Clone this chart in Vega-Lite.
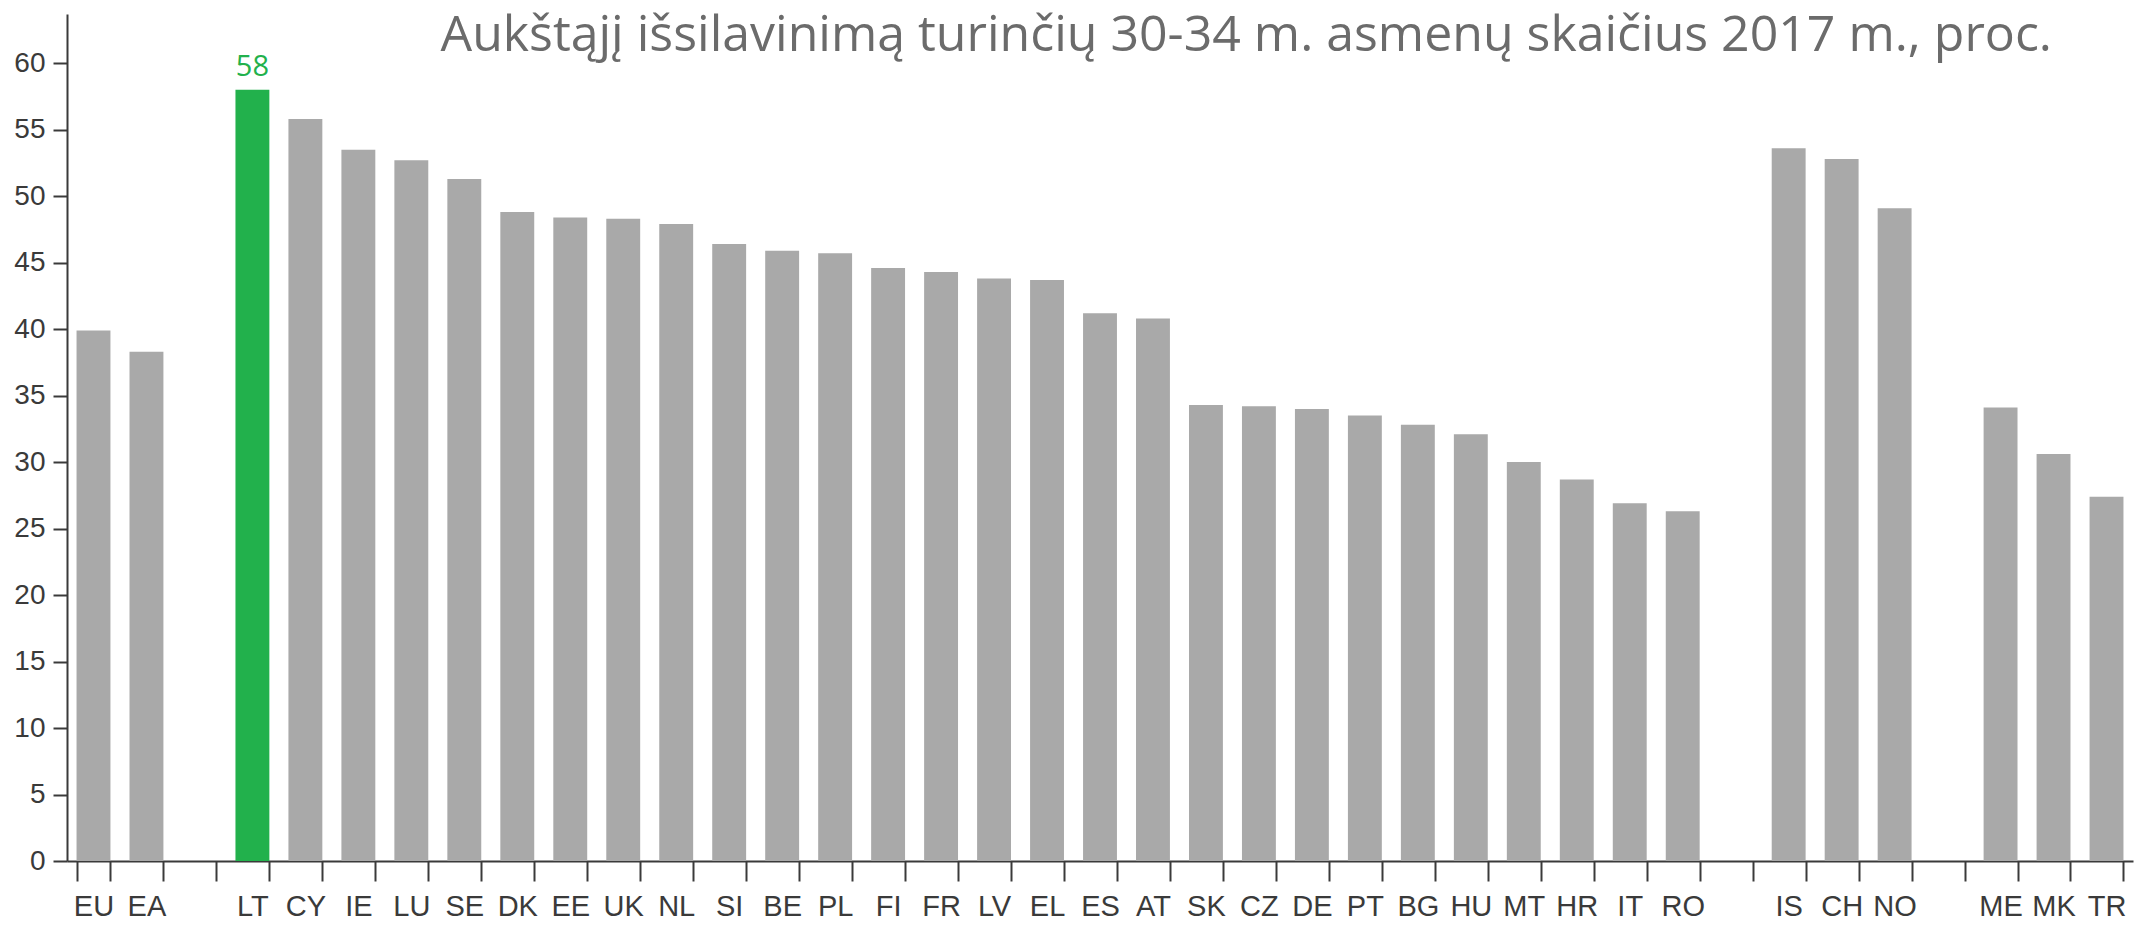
{
  "$schema": "https://vega.github.io/schema/vega-lite/v6.json",
  "width": 2066,
  "height": 847,
  "autosize": {"type": "none"},
  "padding": {"left": 67, "top": 14, "right": 16, "bottom": 68},
  "background": "white",
  "title": {
    "text": "Aukštąjį išsilavinimą turinčių 30-34 m. asmenų skaičius 2017 m., proc.",
    "anchor": "end",
    "frame": "group",
    "orient": "top",
    "offset": 0,
    "baseline": "alphabetic",
    "dy": 87,
    "dx": -81,
    "font": "Open Sans",
    "fontSize": 50,
    "fontWeight": "normal",
    "color": "#6b6b6b"
  },
  "config": {
    "view": {"stroke": null},
    "axis": {"grid": false, "domainColor": "#3a3a3a", "domainWidth": 2, "tickColor": "#3a3a3a", "tickWidth": 2, "labelColor": "#3a3a3a", "labelFont": "Liberation Sans", "title": null}
  },
  "data": {
    "values": [
      {"country": "EU", "value": 39.9},
      {"country": "EA", "value": 38.3},
      {"country": "LT", "value": 58.0},
      {"country": "CY", "value": 55.8},
      {"country": "IE", "value": 53.5},
      {"country": "LU", "value": 52.7},
      {"country": "SE", "value": 51.3},
      {"country": "DK", "value": 48.8},
      {"country": "EE", "value": 48.4},
      {"country": "UK", "value": 48.3},
      {"country": "NL", "value": 47.9},
      {"country": "SI", "value": 46.4},
      {"country": "BE", "value": 45.9},
      {"country": "PL", "value": 45.7},
      {"country": "FI", "value": 44.6},
      {"country": "FR", "value": 44.3},
      {"country": "LV", "value": 43.8},
      {"country": "EL", "value": 43.7},
      {"country": "ES", "value": 41.2},
      {"country": "AT", "value": 40.8},
      {"country": "SK", "value": 34.3},
      {"country": "CZ", "value": 34.2},
      {"country": "DE", "value": 34.0},
      {"country": "PT", "value": 33.5},
      {"country": "BG", "value": 32.8},
      {"country": "HU", "value": 32.1},
      {"country": "MT", "value": 30.0},
      {"country": "HR", "value": 28.7},
      {"country": "IT", "value": 26.9},
      {"country": "RO", "value": 26.3},
      {"country": "IS", "value": 53.6},
      {"country": "CH", "value": 52.8},
      {"country": "NO", "value": 49.1},
      {"country": "ME", "value": 34.1},
      {"country": "MK", "value": 30.6},
      {"country": "TR", "value": 27.4}
    ]
  },
  "encoding": {
    "x": {
      "field": "country",
      "type": "nominal",
      "sort": null,
      "scale": {
        "domain": ["EU", "EA", "_1", "LT", "CY", "IE", "LU", "SE", "DK", "EE", "UK", "NL", "SI", "BE", "PL", "FI", "FR", "LV", "EL", "ES", "AT", "SK", "CZ", "DE", "PT", "BG", "HU", "MT", "HR", "IT", "RO", "_2", "IS", "CH", "NO", "_3", "ME", "MK", "TR"],
        "paddingInner": 0.36,
        "paddingOuter": 0.18
      },
      "axis": {
        "labelAngle": 0,
        "labelFontSize": 29,
        "tickSize": 20,
        "labelPadding": 11,
        "tickBand": "extent",
        "labelExpr": "indexof(datum.label, '_') == 0 ? '' : datum.label"
      }
    },
    "y": {
      "field": "value",
      "type": "quantitative",
      "scale": {"domain": [0, 63.7], "nice": false},
      "axis": {"values": [0, 5, 10, 15, 20, 25, 30, 35, 40, 45, 50, 55, 60], "labelFontSize": 28, "tickSize": 14, "labelPadding": 8}
    }
  },
  "layer": [
    {
      "mark": {"type": "bar"},
      "encoding": {
        "color": {
          "condition": {"test": "datum.country == 'LT'", "value": "#22b14c"},
          "value": "#a9a9a9"
        }
      }
    },
    {
      "transform": [{"filter": "datum.country == 'LT'"}],
      "mark": {"type": "text", "baseline": "alphabetic", "dy": -14, "font": "Open Sans", "fontSize": 29, "color": "#22b14c"},
      "encoding": {"text": {"field": "value", "type": "quantitative", "format": ".0f"}}
    }
  ]
}
